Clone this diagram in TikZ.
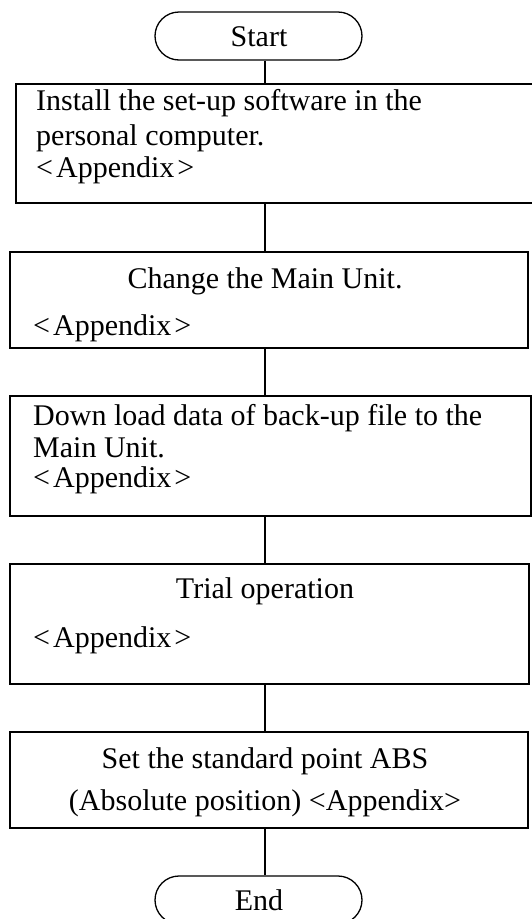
\documentclass[tikz,border=0pt]{standalone}
\usepackage{fontspec}
\setmainfont{Liberation Serif}
\usetikzlibrary{shapes.misc}

\newcommand{\appx}{<\kern3pt Appendix\kern3pt>}

\tikzset{
  term/.style={draw, rounded rectangle, line width=1.3pt, minimum width=207pt, minimum height=48pt, inner sep=0pt},
  stepbox/.style={draw, line width=1.3pt, inner sep=0pt},
  txt/.style={inner sep=0pt, font=\fontsize{30}{36}\selectfont},
  link/.style={line width=1.3pt}
}

\begin{document}
\begin{tikzpicture}[x=1pt, y=-1pt]
\useasboundingbox (0,0) rectangle (532,919);
\coordinate (spine) at (265,0);

% Terminals
\node[term] (start) at (258.5,36) {};
\node[txt, anchor=base] (startlbl) at (259,46) {Start};
\node[term] (stop) at (258.5,900) {};
\node[txt, anchor=base] (stoplbl) at (259,910) {End};

% Boxes
\node[stepbox, minimum width=520pt, minimum height=119pt] (b1) at (276,143.5) {};
\node[stepbox, minimum width=518pt, minimum height=96pt] (b2) at (269,300) {};
\node[stepbox, minimum width=521pt, minimum height=120pt] (b3) at (270.5,456) {};
\node[stepbox, minimum width=519pt, minimum height=120pt] (b4) at (269.5,624) {};
\node[stepbox, minimum width=518pt, minimum height=96pt] (b5) at (269,780) {};

% Box texts
\node[txt, anchor=base west] (t1a) at (36,110.7) {Install the set-up software in the};
\node[txt, anchor=base west] (t1b) at (36,145) {personal computer.};
\node[txt, anchor=base west] (t1c) at (36,177) {\appx};

\node[txt, anchor=base] (t2a) at (265,288) {Change the Main Unit.};
\node[txt, anchor=base west] (t2b) at (33,335) {\appx};

\node[txt, anchor=base west] (t3a) at (33,425) {Down load data of back-up file to the};
\node[txt, anchor=base west] (t3b) at (33,457) {Main Unit.};
\node[txt, anchor=base west] (t3c) at (33,487) {\appx};

\node[txt, anchor=base] (t4a) at (265,598) {Trial operation};
\node[txt, anchor=base west] (t4b) at (33,647) {\appx};

\node[txt, anchor=base] (t5a) at (265,768) {Set the standard point ABS};
\node[txt, anchor=base] (t5b) at (265,810) {(Absolute position) <Appendix>};

% Connectors
\draw[link] (start.south -| spine) -- (b1.north -| spine);
\draw[link] (b1.south -| spine) -- (b2.north -| spine);
\draw[link] (b2.south -| spine) -- (b3.north -| spine);
\draw[link] (b3.south -| spine) -- (b4.north -| spine);
\draw[link] (b4.south -| spine) -- (b5.north -| spine);
\draw[link] (b5.south -| spine) -- (stop.north -| spine);

\end{tikzpicture}
\end{document}
